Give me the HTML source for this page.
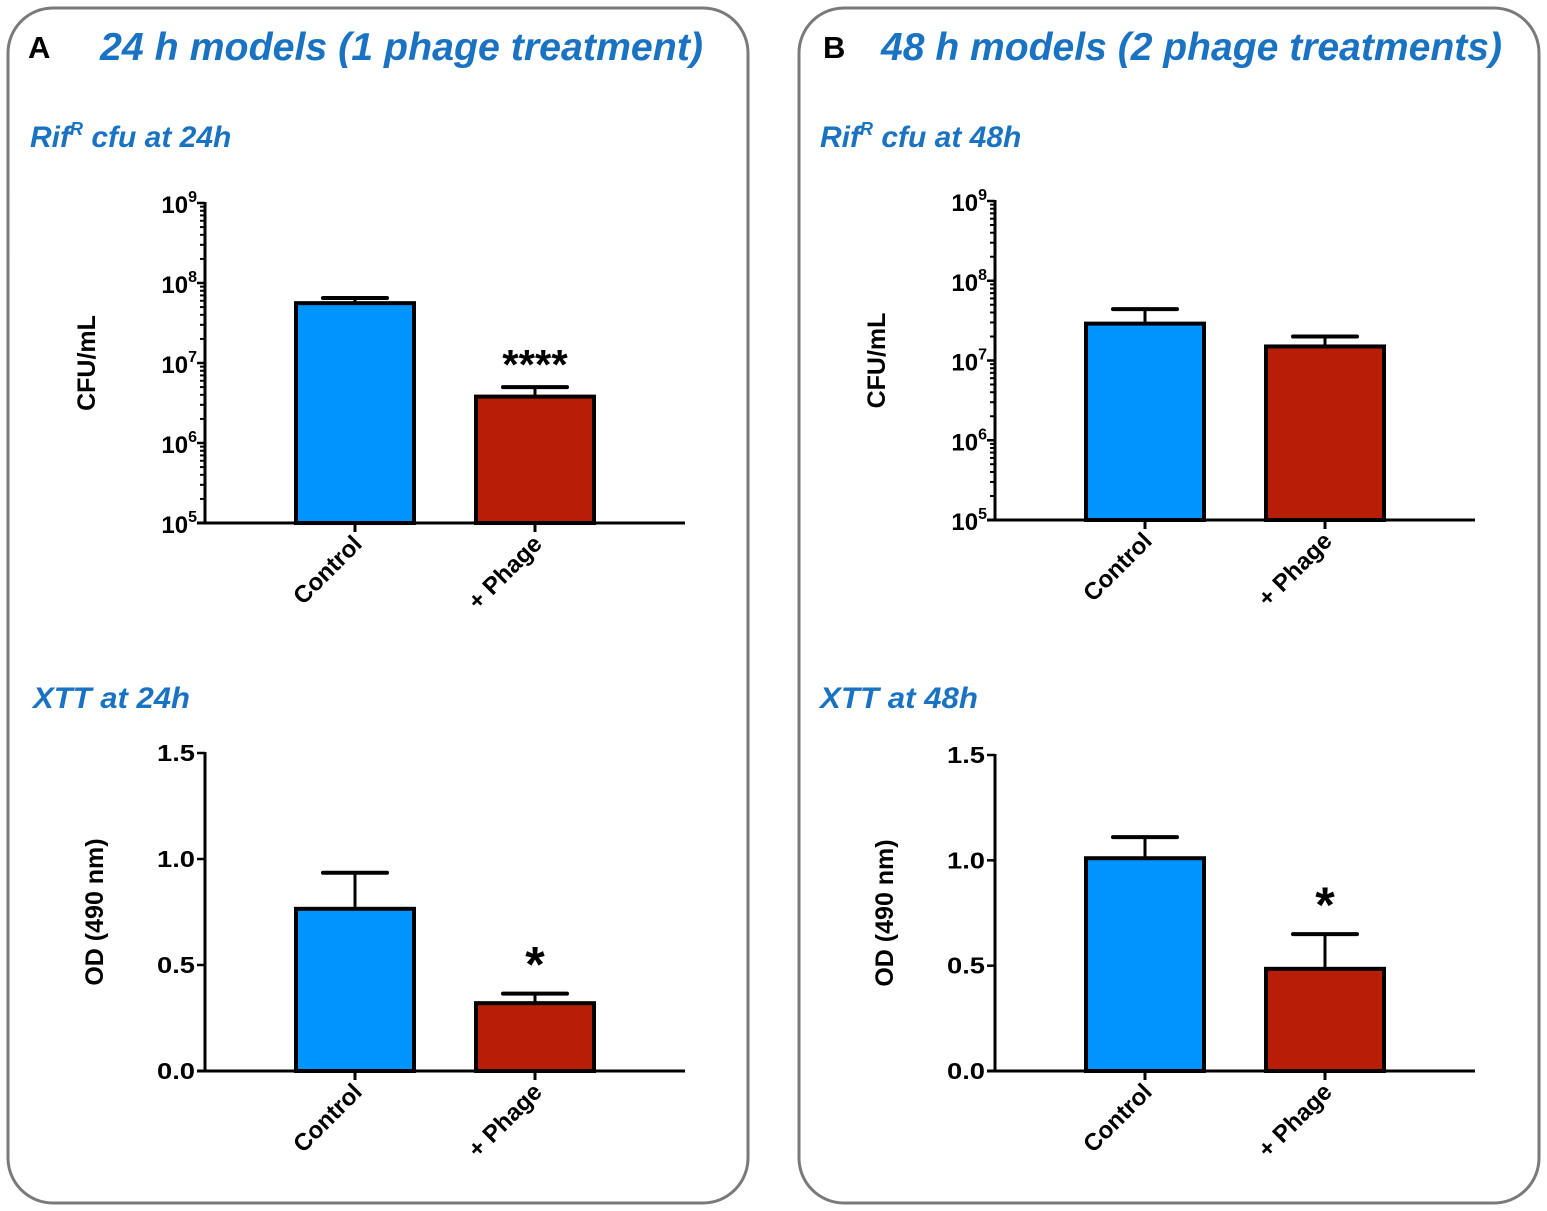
<!DOCTYPE html>
<html><head><meta charset="utf-8"><style>
html,body{margin:0;padding:0;background:#fff;}
svg{display:block;}
text{font-family:"Liberation Sans",sans-serif;}
</style></head><body>
<svg id="fig" width="1547" height="1211" viewBox="0 0 1547 1211" xmlns="http://www.w3.org/2000/svg">
<rect x="8" y="8" width="740" height="1195" rx="45" fill="#fff" stroke="#7a7a7a" stroke-width="3"/>
<rect x="799" y="8" width="740" height="1195" rx="45" fill="#fff" stroke="#7a7a7a" stroke-width="3"/>
<text x="28" y="58" font-size="31" font-weight="bold" fill="#000">A</text>
<text x="100" y="60" font-size="39" font-weight="bold" font-style="italic" fill="#1a72c2" textLength="603" lengthAdjust="spacingAndGlyphs">24 h models (1 phage treatment)</text>
<text x="823" y="58" font-size="31" font-weight="bold" fill="#000">B</text>
<text x="881" y="60" font-size="39" font-weight="bold" font-style="italic" fill="#1a72c2" textLength="621" lengthAdjust="spacingAndGlyphs">48 h models (2 phage treatments)</text>
<text x="30" y="147" font-size="30" font-weight="bold" font-style="italic" fill="#1a72c2">Rif<tspan dy="-12" font-size="18">R</tspan><tspan dy="12"> cfu at 24h</tspan></text>
<text x="820" y="147" font-size="30" font-weight="bold" font-style="italic" fill="#1a72c2">Rif<tspan dy="-12" font-size="18">R</tspan><tspan dy="12"> cfu at 48h</tspan></text>
<text x="33" y="708" font-size="30" font-weight="bold" font-style="italic" fill="#1a72c2" textLength="157" lengthAdjust="spacingAndGlyphs">XTT at 24h</text>
<text x="820" y="708" font-size="30" font-weight="bold" font-style="italic" fill="#1a72c2" textLength="158" lengthAdjust="spacingAndGlyphs">XTT at 48h</text>
<g id="charts"></g>
</svg>
<script>
const categories = ["Control", "+ Phage"];
const cfu24Means = [5.6e7, 3.8e6];
const cfu24Errors = [6.5e7, 5.0e6];
const cfu48Means = [2.9e7, 1.5e7];
const cfu48Errors = [4.4e7, 2.0e7];
const xtt24Means = [0.765, 0.32];
const xtt24Errors = [0.935, 0.365];
const xtt48Means = [1.01, 0.485];
const xtt48Errors = [1.11, 0.65];
const logTickExps = [5, 6, 7, 8, 9];
const linTicks = [0, 0.5, 1.0, 1.5];
const linTickLabels = ["0.0", "0.5", "1.0", "1.5"];
const sigA1 = ["", "****"];
const sigA2 = ["", "*"];
const sigB1 = ["", ""];
const sigB2 = ["", "*"];
const barColors = ["#0094ff", "#b81e05"];

const NS = "http://www.w3.org/2000/svg";
const root = document.getElementById("charts");
function mk(tag, attrs, parent, txt) {
  const e = document.createElementNS(NS, tag);
  for (const k in attrs) e.setAttribute(k, attrs[k]);
  if (txt !== undefined) e.textContent = txt;
  (parent || root).appendChild(e);
  return e;
}

function chart(opt) {
  const g = mk("g", {});
  
  
  const ax = opt.axisX, y0 = opt.y0, y1 = opt.y1, xEnd = ax + 480;
  let yScale;
  if (opt.log) {
    const lo = logTickExps[0], hi = logTickExps[logTickExps.length - 1];
    yScale = v => y0 - (Math.log10(v) - lo) / (hi - lo) * (y0 - y1);
  } else {
    const lo = linTicks[0], hi = linTicks[linTicks.length - 1];
    yScale = v => y0 - (v - lo) / (hi - lo) * (y0 - y1);
  }
  const xCenter = i => ax + 150 + i * 180;
  const yl = mk("line", {x1: ax, y1: y1 - 1, x2: ax, y2: y0 + 1.5, stroke: "#000", "stroke-width": 3}, g);
  
  
  const xl = mk("line", {x1: ax - 8, y1: y0, x2: xEnd, y2: y0, stroke: "#000", "stroke-width": 3}, g);
  
  
  if (opt.log) {
    logTickExps.forEach((e, idx) => {
      const y = yScale(Math.pow(10, e));
      mk("line", {x1: ax - 8, y1: y, x2: ax, y2: y, stroke: "#000", "stroke-width": 2.5}, g);
      const t = mk("text", {x: ax - 8, y: y + 10, "font-size": 24, "font-weight": "bold", "text-anchor": "end"}, g);
      
      
      mk("tspan", {}, t, "10");
      mk("tspan", {dy: -11, "font-size": 16}, t, String(e));
      if (idx < logTickExps.length - 1) {
        for (let k = 2; k <= 9; k++) {
          const ym = yScale(k * Math.pow(10, e));
          mk("line", {x1: ax - 5, y1: ym, x2: ax, y2: ym, stroke: "#000", "stroke-width": 2}, g);
        }
      }
    });
  } else {
    linTicks.forEach((v, i) => {
      const y = yScale(v);
      mk("line", {x1: ax - 8, y1: y, x2: ax, y2: y, stroke: "#000", "stroke-width": 2.5}, g);
      const t = mk("text", {x: ax - 10, y: y + 8, "font-size": 23, "font-weight": "bold", "text-anchor": "end", textLength: 38, lengthAdjust: "spacingAndGlyphs"}, g, linTickLabels[i]);
      
      
    });
  }
  const ty = (y0 + y1) / 2;
  const yt = mk("text", {x: opt.titleX, y: ty, "font-size": 25, "font-weight": "bold", "text-anchor": "middle", transform: `rotate(-90 ${opt.titleX} ${ty})`}, g, opt.yTitle);
  
  
  categories.forEach((c, i) => {
    const cx = xCenter(i);
    const yt2 = yScale(opt.means[i]);
    const ye = yScale(opt.errors[i]);
    const el = mk("line", {x1: cx, y1: ye, x2: cx, y2: yt2, stroke: "#000", "stroke-width": 3}, g);
    
    
    mk("line", {x1: cx - 32, y1: ye, x2: cx + 32, y2: ye, stroke: "#000", "stroke-width": 4, "stroke-linecap": "round"}, g);
    const b = mk("rect", {x: cx - 59, y: yt2, width: 118, height: y0 - yt2, fill: barColors[i], stroke: "#000", "stroke-width": 4}, g);
    
    
    mk("line", {x1: cx, y1: y0, x2: cx, y2: y0 + 9, stroke: "#000", "stroke-width": 3}, g);
    const lx = cx + 2, ly = y0 + 16;
    const lab = mk("text", {x: lx, y: ly + 9, "font-size": 24, "font-weight": "bold", "text-anchor": "end", transform: `rotate(-45 ${lx} ${ly})`}, g, c);
    
    
    if (opt.sig[i]) {
      const multi = opt.sig[i].length > 1;
      const s = mk("text", {x: cx, y: multi ? ye - 8 : ye - 12, "font-size": multi ? 42 : 50, "font-weight": "bold", "text-anchor": "middle"}, g, opt.sig[i]);
      
      
    }
  });
}

chart({name: "chart-cfu-24h", log: true, axisX: 205, y0: 523, y1: 203, means: cfu24Means, errors: cfu24Errors, sig: sigA1, yTitle: "CFU/mL", titleX: 95});
chart({name: "chart-cfu-48h", log: true, axisX: 995, y0: 520, y1: 201, means: cfu48Means, errors: cfu48Errors, sig: sigB1, yTitle: "CFU/mL", titleX: 885});
chart({name: "chart-xtt-24h", log: false, axisX: 205, y0: 1071, y1: 753, means: xtt24Means, errors: xtt24Errors, sig: sigA2, yTitle: "OD (490 nm)", titleX: 103});
chart({name: "chart-xtt-48h", log: false, axisX: 995, y0: 1071, y1: 755, means: xtt48Means, errors: xtt48Errors, sig: sigB2, yTitle: "OD (490 nm)", titleX: 893});
</script>
</body></html>
